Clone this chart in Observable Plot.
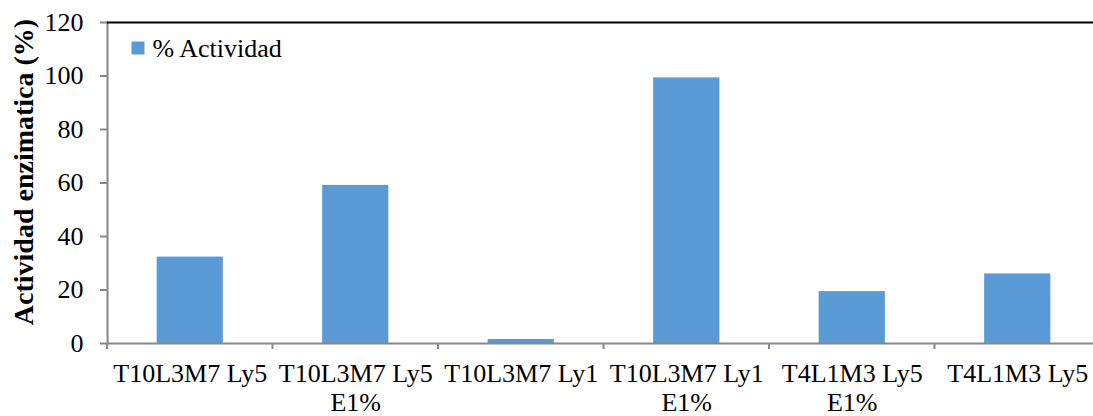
<!DOCTYPE html>
<html>
<head>
<meta charset="utf-8">
<script src="https://cdn.jsdelivr.net/npm/d3@7"></script>
<script src="https://cdn.jsdelivr.net/npm/@observablehq/plot@0.6"></script>
<style>
  html, body { margin: 0; padding: 0; background: #fff; overflow: hidden; }
  #chart { width: 1093px; height: 416px; overflow: hidden; }
  #chart svg, #chart svg text, #chart svg tspan {
    font-family: "Liberation Serif", Tinos, "Times New Roman", "DejaVu Serif", serif !important;
  }
  #chart svg { max-width: none !important; }
</style>
</head>
<body>
<div id="chart"></div>
<script>
// Enzyme activity per treatment
const categories = [
  "T10L3M7 Ly5",
  "T10L3M7 Ly5\nE1%",
  "T10L3M7 Ly1",
  "T10L3M7 Ly1\nE1%",
  "T4L1M3 Ly5\nE1%",
  "T4L1M3 Ly5"
];
const actividad = [32.3, 59.1, 1.5, 99.3, 19.4, 26.0];
const seriesName = "% Actividad";
const yTicks = [0, 20, 40, 60, 80, 100, 120];
const yTitle = "Actividad enzimatica (%)";

const data = categories.map((c, i) => ({categoria: c, valor: actividad[i]}));

const barBlue = "#5B9BD5";
const axisGray = "#888888";
const font = "Liberation Serif, Tinos, Times New Roman, DejaVu Serif, serif";

// Small tick marks sitting on the boundaries between categories
function boundaryTicks(index, scales) {
  const x = scales.x, y = scales.y;
  const gap = (x.step() - x.bandwidth()) / 2;
  const y0 = y(0);
  const g = d3.create("svg:g")
    .attr("stroke", axisGray)
    .attr("stroke-width", 2);
  categories.forEach(c => {
    const xe = x(c) - gap;
    g.append("line")
      .attr("x1", xe).attr("x2", xe)
      .attr("y1", y0).attr("y2", y0 + 6);
  });
  return g.node();
}

const chart = Plot.plot({
  width: 1100,
  height: 416,
  marginLeft: 107,
  marginRight: 0,
  marginTop: 22,
  marginBottom: 73,
  style: {background: "#fff", color: "#000"},
  x: {domain: categories, paddingInner: 0.6, paddingOuter: 0.3, round: false, label: null},
  y: {domain: [0, 120], label: null},
  marks: [
    Plot.barY(data, {x: "categoria", y: "valor", fill: barBlue}),
    Plot.frame({anchor: "left", stroke: axisGray, strokeWidth: 2}),
    Plot.frame({anchor: "top", stroke: "#000", strokeWidth: 2}),
    Plot.ruleY([0], {stroke: axisGray, strokeWidth: 2}),
    boundaryTicks,
    Plot.axisY({
      ticks: yTicks, tickSize: 7, tickPadding: 17,
      stroke: axisGray, strokeWidth: 2, fontFamily: font,
      fontSize: 26, fill: "#000", label: null
    }),
    Plot.axisX({
      tickSize: 0, tickPadding: 18, fontFamily: font,
      fontSize: 26, lineHeight: 1.12, fill: "#000", label: null
    }),
    // axis title
    Plot.text([yTitle], {
      frameAnchor: "left", dx: -75, dy: -11, rotate: -90,
      textAnchor: "middle", lineAnchor: "bottom", fontFamily: font,
      fontSize: 28, fontWeight: "bold", fill: "#000"
    }),
    // legend
    Plot.dot([seriesName], {
      frameAnchor: "top-left", dx: 30.5, dy: 25.5,
      symbol: "square", r: Math.sqrt(169 / Math.PI), fill: barBlue, stroke: null
    }),
    Plot.text([seriesName], {
      frameAnchor: "top-left", dx: 45, dy: 26,
      textAnchor: "start", lineAnchor: "middle", fontFamily: font,
      fontSize: 26, fill: "#000"
    })
  ]
});

document.getElementById("chart").append(chart);
</script>
</body>
</html>
